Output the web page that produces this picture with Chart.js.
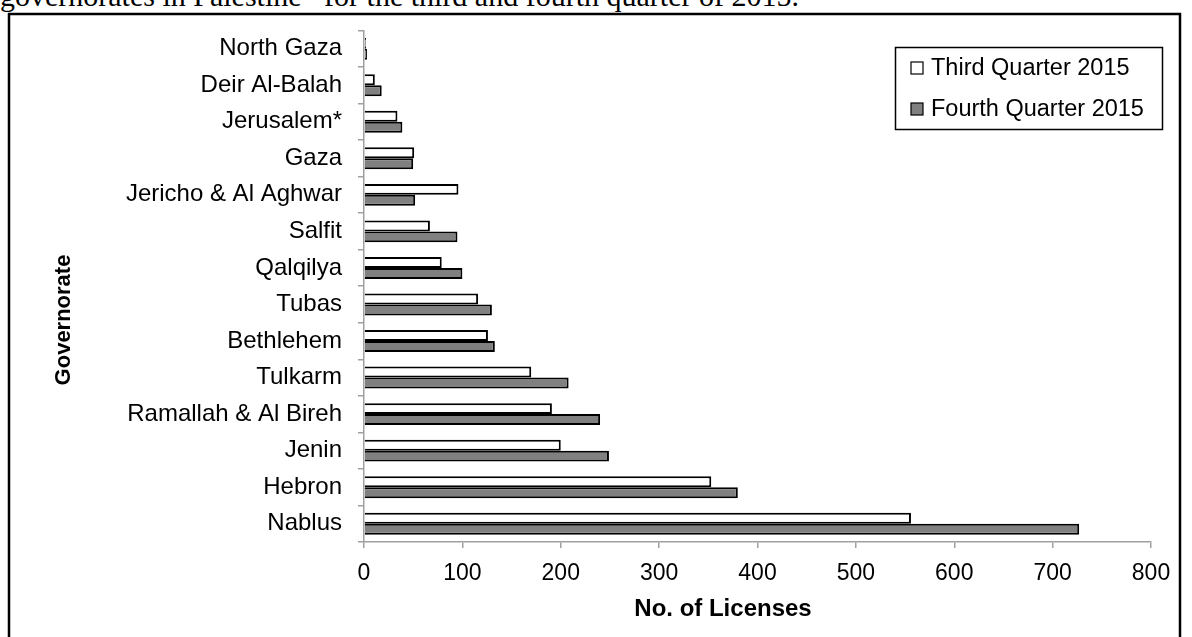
<!DOCTYPE html>
<html>
<head>
<meta charset="utf-8">
<script src="https://cdn.jsdelivr.net/npm/chart.js@4"></script>
<style>
  html, body { margin: 0; padding: 0; background: #fff; }
  body { width: 1192px; height: 637px; overflow: hidden; position: relative; }
  #caption {
    position: absolute; left: 0; top: -19px;
    font-family: "Liberation Serif", "Times New Roman", serif;
    font-size: 30px; line-height: 30px; white-space: nowrap; color: #000;
  }
  #chart { position: absolute; left: 0; top: 0; }
</style>
</head>
<body>
<div id="caption">governorates in Palestine* for the third and fourth quarter of 2015.</div>
<canvas id="chart" width="1192" height="637"></canvas>
<script>
const governorates = [
  'North Gaza', 'Deir Al-Balah', 'Jerusalem*', 'Gaza', 'Jericho & Al Aghwar',
  'Salfit', 'Qalqilya', 'Tubas', 'Bethlehem', 'Tulkarm',
  'Ramallah & Al Bireh', 'Jenin', 'Hebron', 'Nablus'
];
const thirdQuarter = [2, 11, 34, 51, 96, 67, 79, 116, 126, 170, 191, 200, 353, 556];
const fourthQuarter = [3, 18, 39, 50, 52, 95, 100, 130, 133, 208, 240, 249, 380, 727];
const seriesNames = ['Third Quarter 2015', 'Fourth Quarter 2015'];
const xTitle = 'No. of Licenses';
const yTitle = 'Governorate';

const font = 'Liberation Sans, Arial, sans-serif';
const axisGray = '#a0a0a0';

// frame around the whole chart
const framePlugin = {
  id: 'frame',
  beforeDraw (chart) {
    const ctx = chart.ctx;
    ctx.save();
    ctx.strokeStyle = '#000';
    ctx.lineWidth = 2.5;
    ctx.strokeRect(9, 14, 1171, 700);
    ctx.restore();
  }
};

// axis titles sit off-centre in the original, so they are placed by hand
const axisTitles = {
  id: 'axisTitles',
  afterDraw (chart) {
    const ctx = chart.ctx;
    ctx.save();
    ctx.fillStyle = '#000';
    ctx.textAlign = 'center';
    ctx.textBaseline = 'middle';
    ctx.font = 'bold 24px ' + font;
    ctx.fillText(xTitle, 723, 609);
    ctx.translate(64, 320);
    ctx.rotate(-Math.PI / 2);
    ctx.font = 'bold 22px ' + font;
    ctx.fillText(yTitle, 0, 0);
    ctx.restore();
  }
};

// legend box inside the plot, top right
const boxLegend = {
  id: 'boxLegend',
  afterDraw (chart) {
    const ctx = chart.ctx;
    ctx.save();
    ctx.strokeStyle = '#000';
    ctx.lineWidth = 1.5;
    ctx.strokeRect(895.5, 47.5, 267, 82);
    ctx.font = '23.5px ' + font;
    ctx.textBaseline = 'middle';
    ctx.textAlign = 'left';
    chart.data.datasets.forEach((ds, i) => {
      const y = 68 + i * 41;
      ctx.fillStyle = ds.backgroundColor;
      ctx.fillRect(911, y - 6, 12, 12);
      ctx.lineWidth = 1.2;
      ctx.strokeRect(911, y - 6, 12, 12);
      ctx.fillStyle = '#000';
      ctx.fillText(ds.label, 931, y + 1);
    });
    ctx.restore();
  }
};

new Chart(document.getElementById('chart'), {
  type: 'bar',
  data: {
    labels: governorates,
    datasets: [
      {
        label: seriesNames[0],
        data: thirdQuarter,
        backgroundColor: '#ffffff',
        borderColor: '#000000',
        borderWidth: 2,
        categoryPercentage: 0.6,
        barPercentage: 1.0
      },
      {
        label: seriesNames[1],
        data: fourthQuarter,
        backgroundColor: '#808080',
        borderColor: '#000000',
        borderWidth: 2,
        categoryPercentage: 0.6,
        barPercentage: 1.0
      }
    ]
  },
  options: {
    indexAxis: 'y',
    responsive: false,
    animation: false,
    layout: { padding: { left: 0, top: 30, right: 41, bottom: 0 } },
    plugins: {
      legend: { display: false },
      tooltip: { enabled: false }
    },
    scales: {
      x: {
        min: 0,
        max: 800,
        ticks: { stepSize: 100, color: '#000', padding: 12, font: { family: font, size: 23 } },
        grid: { drawOnChartArea: false, color: axisGray, tickLength: 6, lineWidth: 1.5 },
        border: { color: axisGray, width: 1.5 },
        afterFit (scale) { scale.height = 95; }
      },
      y: {
        ticks: { color: '#000', padding: 16, font: { family: font, size: 24 } },
        grid: { drawOnChartArea: false, color: axisGray, tickLength: 6, lineWidth: 1.5 },
        border: { color: axisGray, width: 1.5 },
        afterFit (scale) { scale.width = 364; }
      }
    }
  },
  plugins: [framePlugin, axisTitles, boxLegend]
});
</script>
</body>
</html>
